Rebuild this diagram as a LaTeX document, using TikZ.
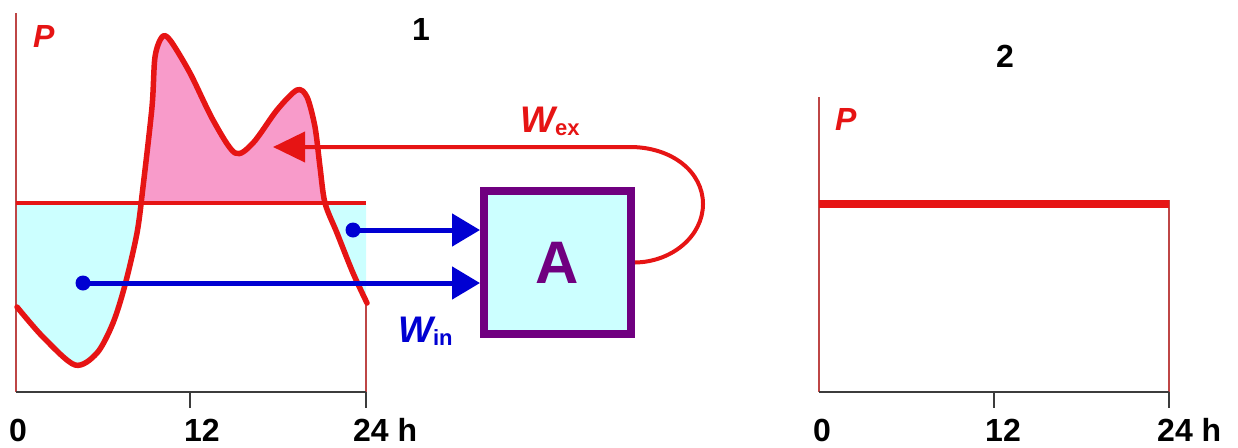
\documentclass[tikz,border=0pt]{standalone}
\usepackage{fontspec}
\setmainfont{Liberation Sans}
\usetikzlibrary{arrows.meta}
\definecolor{cred}{RGB}{230,20,20}
\definecolor{cpink}{RGB}{248,155,202}
\definecolor{ccyan}{RGB}{204,255,255}
\definecolor{cblue}{RGB}{0,0,210}
\definecolor{cpurple}{RGB}{112,0,128}
\definecolor{caxisr}{RGB}{190,70,70}
\definecolor{caxisg}{RGB}{60,60,60}
\begin{document}
\begin{tikzpicture}[x=1pt,y=-1pt,
  axisr/.style={draw=caxisr,line width=1.6pt},
  axisg/.style={draw=caxisg,line width=1.8pt},
  ticklab/.style={inner sep=0pt,font=\fontsize{32}{36}\selectfont\bfseries,text=black},
  plab/.style={inner sep=0pt,font=\fontsize{32}{36}\selectfont\bfseries\itshape,text=cred},
  curvestyle/.style={draw=cred,line width=5.5pt,line join=round,line cap=round},
  bluearrow/.style={draw=cblue,line width=5pt,-{Triangle[length=28pt,width=32pt]}},
  bluedot/.style={circle,fill=cblue,inner sep=0pt,minimum size=15pt},
  abox/.style={draw=cpurple,line width=8pt,fill=ccyan,minimum width=147pt,minimum height=143pt,inner sep=0pt,text=cpurple,font=\fontsize{60}{64}\selectfont\bfseries}
]
\useasboundingbox (0,0) rectangle (1238,447);
% ---------- chart 1 fills
\begin{scope}
\clip (16,0) rectangle (366,203);
\fill[cpink] plot[smooth] coordinates {(17,307) (43,337) (75,365) (97,353) (113,323) (125,285) (137,233) (143,187) (152,107) (155,57) (162,37) (170,40) (190,73) (213,120) (235,153) (253,143) (277,110) (297,90) (307,97) (315,127) (320,167) (325,203) (337,233) (353,273) (367,303)} -- (367,440) -- (16,440) -- cycle;
\end{scope}
\begin{scope}
\clip (16,203) rectangle (366,447);
\fill[ccyan] plot[smooth] coordinates {(17,307) (43,337) (75,365) (97,353) (113,323) (125,285) (137,233) (143,187) (152,107) (155,57) (162,37) (170,40) (190,73) (213,120) (235,153) (253,143) (277,110) (297,90) (307,97) (315,127) (320,167) (325,203) (337,233) (353,273) (367,303)} -- (367,0) -- (16,0) -- cycle;
\end{scope}
% axes chart 1
\draw[axisr] (16,13) -- (16,392);
\draw[axisr] (366,303) -- (366,392);
\draw[axisg] (16,392) -- (366,392);
\draw[axisg] (190,392) -- (190,408);
\draw[axisg] (366,392) -- (366,408);
% red line level
\draw[draw=cred,line width=3.5pt] (16,203) -- (366,203);
% curve
\draw[curvestyle] plot[smooth] coordinates {(17,307) (43,337) (75,365) (97,353) (113,323) (125,285) (137,233) (143,187) (152,107) (155,57) (162,37) (170,40) (190,73) (213,120) (235,153) (253,143) (277,110) (297,90) (307,97) (315,127) (320,167) (325,203) (337,233) (353,273) (367,303)};
% labels chart 1
\node[plab,anchor=base west] (p1) at (33,47) {P};
\node[ticklab,anchor=base] (n1) at (421,40) {1};
\node[ticklab,anchor=base] (t10) at (18,441) {0};
\node[ticklab,anchor=base] (t112) at (202,441) {12};
\node[ticklab,anchor=base west] (t124) at (353,441) {24 h};
% box A
\node[abox] (A) at (557.5,262.5) {A};
% blue arrows
\node[bluedot] (d1) at (353,230) {};
\node[bluedot] (d2) at (83,283) {};
\draw[bluearrow] (d1.center) -- (A.west |- d1.center);
\draw[bluearrow] (d2.center) -- (A.west |- d2.center);
\node[inner sep=0pt,anchor=base west,text=cblue] (win) at (398,342) {{\fontsize{37}{40}\selectfont\bfseries\itshape W}\raisebox{-3pt}{\fontsize{22}{24}\selectfont\bfseries in}};
% red feedback arrow
\coordinate (wtop) at (630,147);
\coordinate (wtip) at (273,147);
\draw[draw=cred,line width=4pt,-{Triangle[length=32pt,width=30pt]}] (A.east) .. controls (672,262) and (703,236) .. (703,204) .. controls (703,172) and (672,147) .. (wtop) -- (wtip);
\node[inner sep=0pt,anchor=base west,text=cred] (wex) at (520,132) {{\fontsize{37}{40}\selectfont\bfseries\itshape W}\raisebox{-3pt}{\fontsize{22}{24}\selectfont\bfseries ex}};
% ---------- chart 2
\draw[axisr] (819,97) -- (819,392);
\draw[axisr] (1169,200) -- (1169,392);
\draw[axisg] (819,392) -- (1169,392);
\draw[axisg] (994,392) -- (994,408);
\draw[axisg] (1169,392) -- (1169,408);
\draw[draw=cred,line width=8pt] (819,204) -- (1169,204);
\node[plab,anchor=base west] (p2) at (835,130) {P};
\node[ticklab,anchor=base] (n2) at (1005,67) {2};
\node[ticklab,anchor=base] (t20) at (822,441) {0};
\node[ticklab,anchor=base] (t212) at (1003,441) {12};
\node[ticklab,anchor=base west] (t224) at (1157,441) {24 h};
\end{tikzpicture}
\end{document}
